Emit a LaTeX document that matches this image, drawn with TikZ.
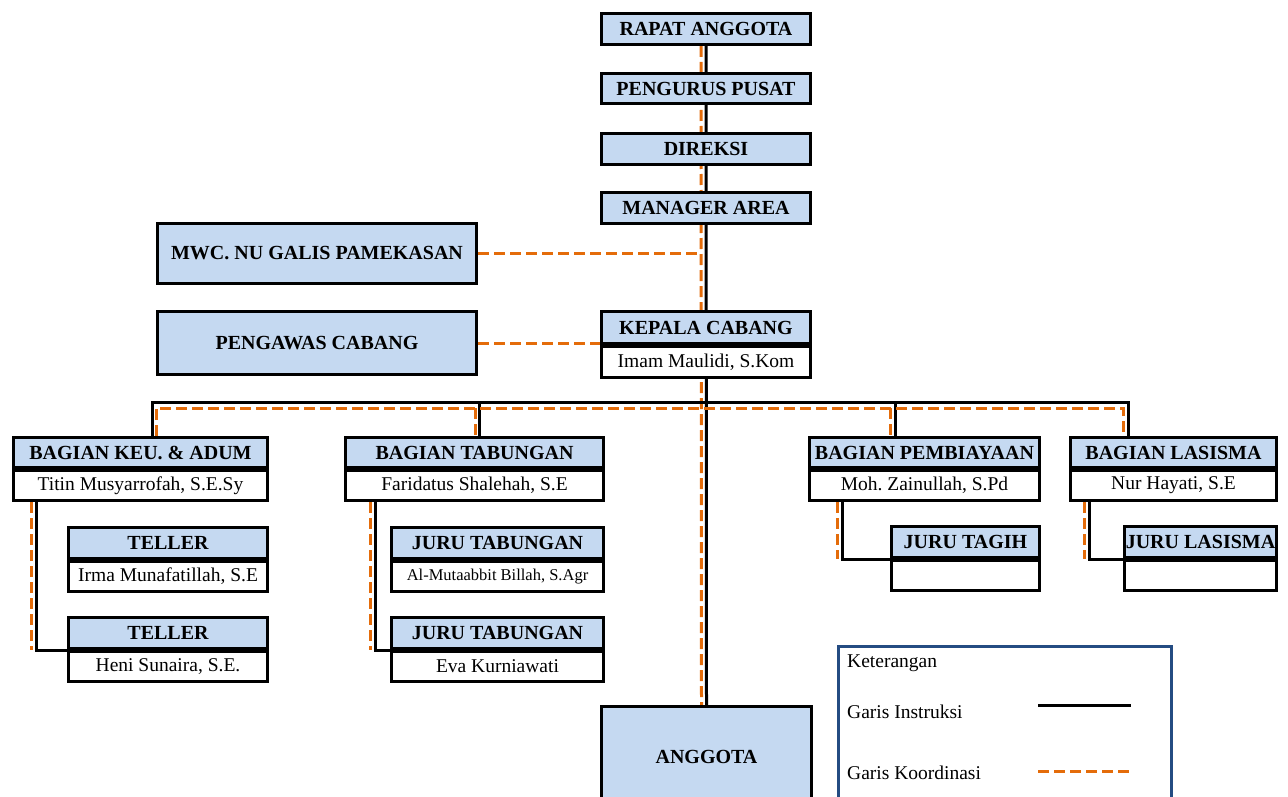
\documentclass[tikz,border=0pt]{standalone}
\usepackage{fontspec}
\setmainfont{Liberation Serif}
\usetikzlibrary{backgrounds}
\definecolor{lb}{RGB}{197,217,241}
\definecolor{orr}{RGB}{228,108,10}
\definecolor{legc}{RGB}{36,76,130}
\newcommand\hfont{\fontsize{20}{22}\selectfont\bfseries}
\newcommand\nfont{\fontsize{19.5}{22}\selectfont}
\newcommand\sfontx{\fontsize{16.5}{19}\selectfont}
\frenchspacing
\tikzset{
  hb/.style={draw, line width=3pt, fill=lb, inner sep=0pt, anchor=north west, font=\hfont},
  nb/.style={draw, line width=3pt, fill=white, inner sep=0pt, anchor=north west, font=\nfont},
  instr/.style={line width=3pt, black},
  koord/.style={line width=3pt, orr, dash pattern=on 11pt off 5pt},
  lgtext/.style={anchor=west, inner sep=0pt, font=\nfont},
}
% name, x, y, width, h1, h2, header, person
\newcommand\orgbox[8]{%
  \node[hb, minimum width=#4pt, minimum height=#5pt] (#1) at (#2,#3) {#7};
  \node[nb, minimum width=#4pt, minimum height=#6pt] (#1n) at (#1.south west) {#8};}
\begin{document}
\begin{tikzpicture}[x=1pt,y=-1pt]
\useasboundingbox (0,0) rectangle (1288,797);
% top chain
\node[hb, minimum width=209pt, minimum height=31pt] (ra) at (600,12) {RAPAT ANGGOTA};
\node[hb, minimum width=209pt, minimum height=30pt] (pp) at (600,72) {PENGURUS PUSAT};
\node[hb, minimum width=209pt, minimum height=31pt] (dk) at (600,132) {DIREKSI};
\node[hb, minimum width=209pt, minimum height=31pt] (ma) at (600,191) {MANAGER AREA};
\node[hb, minimum width=319pt, minimum height=60pt] (mwc) at (156,222) {MWC. NU GALIS PAMEKASAN};
\node[hb, minimum width=319pt, minimum height=63pt] (pc) at (156,310) {PENGAWAS CABANG};
\orgbox{kc}{600}{310}{209}{32}{31}{KEPALA CABANG}{Imam Maulidi, S.Kom}
% departments
\orgbox{keu}{12}{436}{254}{30}{30}{BAGIAN KEU. \& ADUM}{Titin Musyarrofah, S.E.Sy}
\orgbox{ta}{67}{526}{199}{31}{30}{TELLER}{Irma Munafatillah, S.E}
\orgbox{tb}{67}{616}{199}{31}{30}{TELLER}{Heni Sunaira, S.E.}
\orgbox{tab}{344}{436}{258}{30}{30}{BAGIAN TABUNGAN}{Faridatus Shalehah, S.E}
\orgbox{ja}{390}{526}{212}{31}{30}{JURU TABUNGAN}{\sfontx Al-Mutaabbit Billah, S.Agr}
\orgbox{jb}{390}{616}{212}{31}{30}{JURU TABUNGAN}{Eva Kurniawati}
\orgbox{pb}{808}{436}{230}{30}{30}{BAGIAN PEMBIAYAAN}{Moh. Zainullah, S.Pd}
\orgbox{jtg}{890}{525}{148}{31}{30}{JURU TAGIH}{}
\orgbox{las}{1069}{436}{206}{30}{30}{BAGIAN LASISMA}{Nur Hayati, S.E}
\orgbox{jl}{1123}{525}{152}{31}{30}{JURU LASISMA}{}
\node[hb, minimum width=210pt, minimum height=100pt] (ang) at (600,705) {ANGGOTA};
% legend
\node[draw=legc, line width=2.5pt, inner sep=0pt, anchor=north west, minimum width=333pt, minimum height=170pt] (leg) at (837,645) {};
\node[lgtext] (lk) at (847,663) {Keterangan};
\node[lgtext] (li) at (847,712) {Garis Instruksi};
\node[lgtext] (lo) at (847,773) {Garis Koordinasi};
\coordinate (li1) at (1038,705);
\coordinate (li2) at (1131,705);
\coordinate (lo1) at (1038,771);
\coordinate (lo2) at (1131,771);
\draw[instr] (li1) -- (li2);
\draw[koord] (lo1) -- (lo2);
% connectors
\begin{pgfonlayer}{background}
\coordinate (bb) at (0,402);
\coordinate (bo) at (0,408);
\coordinate (so) at ([xshift=-5pt]ra.south);
\coordinate (sa) at ([xshift=-5pt]ang.north);
\draw[instr] (ra.south) -- (ang.north);
\draw[koord] (so) -- (sa);
\draw[koord] (mwc.east) -- (mwc.east -| so);
\draw[koord] (pc.east) -- (pc.east -| kc.west);
% bus drops
\coordinate (d1) at ([xshift=140pt]keu.north west);
\coordinate (d2) at ([xshift=135pt]tab.north west);
\coordinate (d3) at ([xshift=87pt]pb.north west);
\coordinate (d4) at ([xshift=59pt]las.north west);
\coordinate (o1) at ([xshift=144pt]keu.north west);
\coordinate (o2) at ([xshift=131pt]tab.north west);
\coordinate (o3) at ([xshift=82pt]pb.north west);
\coordinate (o4) at ([xshift=54pt]las.north west);
\draw[instr] (d1) -- (d1 |- bb) -- (d4 |- bb) -- (d4);
\draw[instr] (d2 |- bb) -- (d2);
\draw[instr] (d3 |- bb) -- (d3);
\draw[koord] (o1) -- (o1 |- bo) -- (o4 |- bo) -- (o4);
\draw[koord] (o2 |- bo) -- (o2);
\draw[koord] (o3 |- bo) -- (o3);
% sub connectors
\coordinate (k1) at ([xshift=24pt]keun.south west);
\coordinate (k2) at ([xshift=19pt]keun.south west);
\draw[instr] (k1) |- (tb.south west);
\draw[koord] (k2) -- (k2 |- tb.south west);
\coordinate (t1) at ([xshift=31pt]tabn.south west);
\coordinate (t2) at ([xshift=26pt]tabn.south west);
\draw[instr] (t1) |- (jb.south west);
\draw[koord] (t2) -- (t2 |- jb.south west);
\coordinate (p1) at ([xshift=34pt]pbn.south west);
\coordinate (p2) at ([xshift=29pt]pbn.south west);
\draw[instr] (p1) |- (jtg.south west);
\draw[koord] (p2) -- (p2 |- jtg.south west);
\coordinate (l1) at ([xshift=20pt]lasn.south west);
\coordinate (l2) at ([xshift=15pt]lasn.south west);
\draw[instr] (l1) |- (jl.south west);
\draw[koord] (l2) -- (l2 |- jl.south west);
\end{pgfonlayer}
\end{tikzpicture}
\end{document}
